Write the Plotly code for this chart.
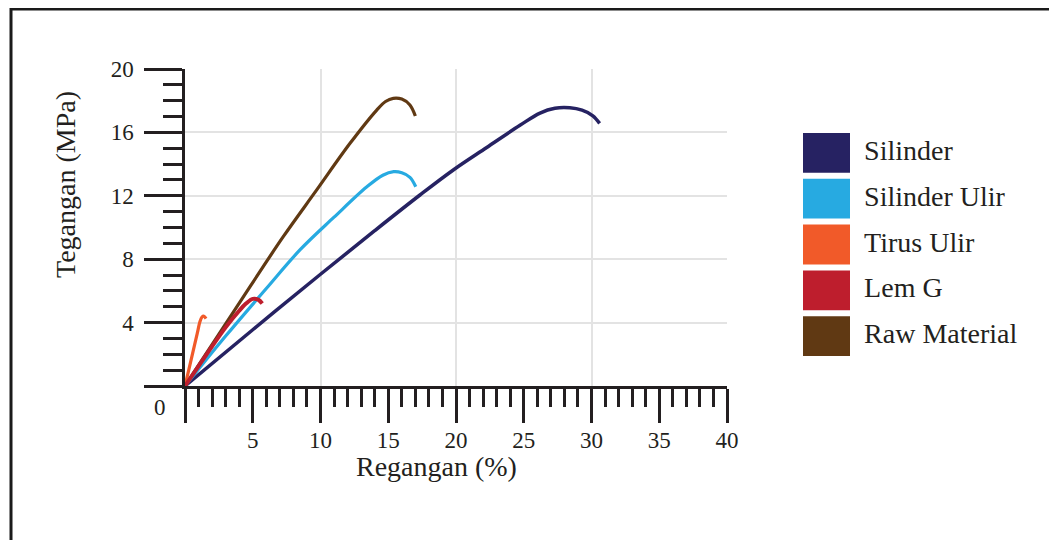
import plotly.graph_objects as go

W, H = 1057, 540
FONT = "Liberation Serif"
INK = "#231f20"

# ---- data ----
series_names = ["Silinder", "Silinder Ulir", "Tirus Ulir", "Lem G", "Raw Material"]
series_colors = ["#262262", "#27aae1", "#f15a29", "#be1e2d", "#603913"]

silinder_x = [0, 5, 10, 14, 17.34, 19.8, 22.27, 24.72, 26.2, 27.3, 28.4, 29.3, 30.1, 30.6]
silinder_y = [0, 3.55, 7.05, 9.8, 12.05, 13.63, 15.05, 16.45, 17.22, 17.52, 17.55, 17.4, 17.05, 16.57]

ulir_x = [0, 3, 6, 8.5, 11, 13.4, 14.6, 15.4, 16.0, 16.6, 17.03]
ulir_y = [0, 3.15, 6.15, 8.6, 10.65, 12.55, 13.3, 13.52, 13.45, 13.16, 12.57]

tirus_x = [0, 0.3, 0.6, 0.9, 1.1, 1.25, 1.4, 1.55]
tirus_y = [0, 1.1, 2.2, 3.3, 4.05, 4.35, 4.4, 4.25]

lem_x = [0, 1, 2, 3, 4, 4.5, 5.0, 5.4, 5.7]
lem_y = [0, 1.25, 2.5, 3.7, 4.75, 5.2, 5.5, 5.45, 5.2]

raw_x = [0, 4.8, 7.25, 9.72, 12.18, 14.15, 14.8, 15.37, 16.0, 16.6, 17.0]
raw_y = [0, 6.27, 9.42, 12.37, 15.31, 17.41, 17.95, 18.15, 18.1, 17.73, 17.03]

x_tickvals = [0, 5, 10, 15, 20, 25, 30, 35, 40]
x_ticktext = ["", "5", "10", "15", "20", "25", "30", "35", "40"]
y_tickvals = [0, 4, 8, 12, 16, 20]
y_ticktext = ["", "4", "8", "12", "16", "20"]

x_title = "Regangan (%)"
y_title = "Tegangan (MPa)"

# ---- geometry helpers (screen pixel -> paper); page body adds an 8px offset ----
OFF = 8

def px(x):
    return (x - OFF) / W

def py(y):
    return 1 - (y - OFF) / H

fig = go.Figure()

curves = {
    "Silinder": (silinder_x, silinder_y),
    "Silinder Ulir": (ulir_x, ulir_y),
    "Raw Material": (raw_x, raw_y),
    "Tirus Ulir": (tirus_x, tirus_y),
    "Lem G": (lem_x, lem_y),
}
color_of = dict(zip(series_names, series_colors))
width_of = {"Silinder": 3.5, "Silinder Ulir": 3.2, "Raw Material": 3.2, "Tirus Ulir": 3.2, "Lem G": 4}

# invisible carrier trace for the grid-only overlay axis
fig.add_trace(go.Scatter(x=[0, 40], y=[0, 20], mode="markers", marker=dict(opacity=0),
                         xaxis="x2", yaxis="y", showlegend=False, hoverinfo="skip"))

for name, (xs, ys) in curves.items():
    fig.add_trace(go.Scatter(
        x=xs, y=ys, mode="lines", name=name, showlegend=False,
        line=dict(color=color_of[name], width=width_of[name], shape="spline", smoothing=1.0),
        xaxis="x", yaxis="y", hoverinfo="skip",
    ))

# legend built as a small bar subplot
fig.add_trace(go.Bar(
    x=[1] * len(series_names), y=series_names, orientation="h", base=0,
    marker=dict(color=series_colors, line=dict(width=0)), width=0.87,
    xaxis="x3", yaxis="y3", showlegend=False, hoverinfo="skip",
))
fig.add_trace(go.Scatter(
    x=[1.30] * len(series_names), y=series_names, mode="text", text=series_names,
    textposition="middle right", textfont=dict(family=FONT, size=28, color=INK),
    xaxis="x3", yaxis="y3", showlegend=False, hoverinfo="skip",
))

x_dom = [px(185), px(727)]
y_dom = [py(386), py(69)]

fig.update_layout(
    width=W, height=H,
    margin=dict(l=0, r=0, t=0, b=0, autoexpand=False),
    paper_bgcolor="white", plot_bgcolor="white",
    showlegend=False,
    font=dict(family=FONT, color=INK),
    xaxis=dict(
        domain=x_dom, range=[0, 40], anchor="y", automargin=False,
        tickmode="array", tickvals=x_tickvals, ticktext=x_ticktext,
        ticks="outside", ticklen=34, tickwidth=3, tickcolor=INK,
        ticklabelstandoff=-2,
        tickfont=dict(family=FONT, size=23, color=INK),
        minor=dict(ticks="outside", ticklen=18, tickwidth=3, tickcolor=INK,
                   tickmode="linear", tick0=0, dtick=1, showgrid=False),
        showgrid=False, zeroline=False,
        showline=True, linecolor=INK, linewidth=2.5,
    ),
    xaxis2=dict(
        overlaying="x", anchor="y", domain=x_dom, range=[0, 40], automargin=False,
        tickmode="linear", tick0=0, dtick=10,
        showgrid=True, gridcolor="#e3e3e3", gridwidth=1.5,
        showticklabels=False, ticks="", showline=False, zeroline=False,
    ),
    yaxis=dict(
        domain=y_dom, range=[0, 20], anchor="x", automargin=False,
        tickmode="array", tickvals=y_tickvals, ticktext=y_ticktext,
        ticks="outside", ticklen=38, tickwidth=3, tickcolor=INK,
        ticklabelstandoff=6,
        tickfont=dict(family=FONT, size=23, color=INK),
        minor=dict(ticks="outside", ticklen=19, tickwidth=3, tickcolor=INK,
                   tickmode="linear", tick0=0, dtick=1, showgrid=False),
        showgrid=True, gridcolor="#e3e3e3", gridwidth=1.5,
        zeroline=False, showline=True, linecolor=INK, linewidth=2.5,
    ),
    xaxis3=dict(
        domain=[px(803), px(1050)], range=[0, (1050 - 803) / 47], anchor="y3",
        visible=False, fixedrange=True, automargin=False,
    ),
    yaxis3=dict(
        domain=[py(359), py(130)], range=[len(series_names) - 0.5, -0.5], anchor="x3",
        visible=False, fixedrange=True, type="category", automargin=False,
    ),
    annotations=[
        dict(text=x_title, xref="paper", yref="paper", x=px(436), y=py(466),
             showarrow=False, font=dict(family=FONT, size=28, color=INK),
             xanchor="center", yanchor="middle"),
        dict(text=y_title, xref="paper", yref="paper", x=px(66), y=py(185),
             showarrow=False, textangle=-90, font=dict(family=FONT, size=28, color=INK),
             xanchor="center", yanchor="middle"),
        dict(text="0", xref="paper", yref="paper", x=px(160), y=py(407),
             showarrow=False, font=dict(family=FONT, size=23, color=INK),
             xanchor="center", yanchor="middle"),
    ],
    shapes=[
        dict(type="rect", xref="paper", yref="paper",
             x0=px(11), x1=px(1055), y0=-0.1, y1=py(9),
             line=dict(color="#1a1a1a", width=3), fillcolor="rgba(0,0,0,0)", layer="above"),
    ],
)

fig.write_html("out.html")
